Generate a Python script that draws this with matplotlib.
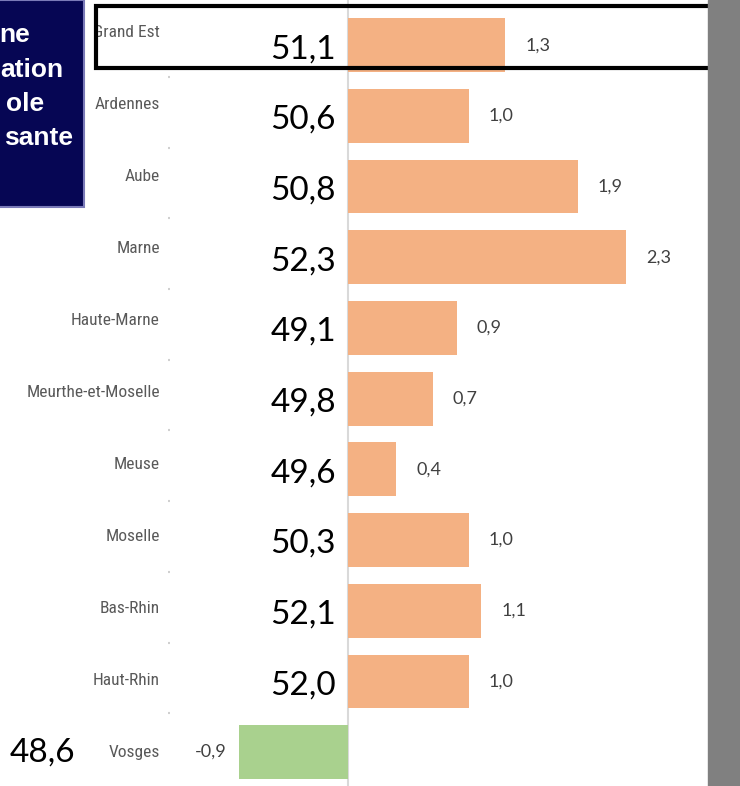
import matplotlib
matplotlib.use("Agg")
import matplotlib.pyplot as plt
from matplotlib import font_manager
from matplotlib.patches import Rectangle
import matplotlib.transforms as mtransforms

departements = ["Grand Est", "Ardennes", "Aube", "Marne", "Haute-Marne",
                "Meurthe-et-Moselle", "Meuse", "Moselle", "Bas-Rhin",
                "Haut-Rhin", "Vosges"]
evolution = [1.3, 1.0, 1.9, 2.3, 0.9, 0.7, 0.4, 1.0, 1.1, 1.0, -0.9]
taux = [51.1, 50.6, 50.8, 52.3, 49.1, 49.8, 49.6, 50.3, 52.1, 52.0, 48.6]

def fr(v):
    return f"{v:.1f}".replace(".", ",")

# pick a narrow font for category names if one is installed
names = {f.name for f in font_manager.fontManager.ttflist}
narrow = [n for n in ["Liberation Sans Narrow", "DejaVu Sans Condensed",
                      "Roboto Condensed", "Open Sans Condensed"] if n in names]
stretch_cond = [f for f in font_manager.fontManager.ttflist
                if f.name == "DejaVu Sans" and f.stretch == "condensed"]
if narrow:
    lab_kw = dict(family=[narrow[0], "DejaVu Sans"], fontsize=12.5)
elif stretch_cond:
    lab_kw = dict(family=["DejaVu Sans"], stretch="condensed", fontsize=11)
else:
    lab_kw = dict(family=["Roboto", "DejaVu Sans"], fontsize=10.5)

W, H = 740, 786
fig = plt.figure(figsize=(W / 100, H / 100), dpi=100)
ax = fig.add_axes([170 / W, 0, 538 / W, 1])

colors = ["#f4b183" if v >= 0 else "#a9d18e" for v in evolution]
ypos = list(range(len(departements)))
ax.barh(ypos, evolution, height=0.76, color=colors, zorder=2)
ax.axvline(0, color="#d9d9d9", lw=1.5, zorder=1)

ax.set_xlim(-1.47, 2.975)
ax.set_ylim(10.48, -0.64)
ax.set_xticks([])
ax.set_yticks([y + 0.45 for y in ypos[:-1]])
ax.set_yticklabels([])
ax.tick_params(axis="y", length=1.5, color="#d0d0d0", width=1.5)
for s in ax.spines.values():
    s.set_visible(False)

num_font = ["Lato", "DejaVu Sans"]
trans_lab = mtransforms.blended_transform_factory(ax.transAxes, ax.transData)
for i, (name, v, t) in enumerate(zip(departements, evolution, taux)):
    # category labels (slightly above the bar centre)
    dy = 13 - 1.3 * i
    ax.annotate(name, xy=(0, i), xycoords=trans_lab, xytext=(-10, dy),
                textcoords="offset pixels", ha="right", va="center",
                color="#595959", zorder=5, **lab_kw)
    # bar value labels
    if v >= 0:
        ax.annotate(fr(v), xy=(v, i), xytext=(20, 0), textcoords="offset pixels",
                    ha="left", va="center", fontsize=13, color="#404040", family=num_font)
    else:
        ax.annotate(fr(v), xy=(v, i), xytext=(-12, 0), textcoords="offset pixels",
                    ha="right", va="center", fontsize=13, color="#404040", family=num_font)
    # big rate numbers
    if v >= 0:
        ax.annotate(fr(t), xy=(0, i), xytext=(-12, -4), textcoords="offset pixels",
                    ha="right", va="center", fontsize=24, color="black", family=num_font)
    else:
        ax.annotate(fr(t), xy=(0, i), xycoords=trans_lab, xytext=(-95, 0),
                    textcoords="offset pixels", ha="right", va="center",
                    fontsize=24, color="black", family=num_font)

# grey strip on the right
fig.patches.append(Rectangle((708 / W, 0), 32 / W, 1, transform=fig.transFigure,
                             color="#808080", zorder=5))
# highlight box around Grand Est
fig.patches.append(Rectangle((96 / W, 1 - 68 / H), 620 / W, 62 / H,
                             transform=fig.transFigure, fill=False,
                             ec="black", lw=3, zorder=4))
# dark title box, cut off on the left
fig.patches.append(Rectangle((-0.01, 1 - 207 / H), 91 / W, 207 / H,
                             transform=fig.transFigure, fc="#060654",
                             ec="#7a7ab8", lw=1.5, zorder=6))
title_lines = [("ne", 30, 35), ("ation", 63, 70), ("ole", 44, 104), ("sante", 73, 138)]
for txt, xr, yc in title_lines:
    fig.text(xr / W, 1 - yc / H, txt, ha="right", va="center", fontsize=19,
             fontweight="bold", color="white", family=["Liberation Sans", "DejaVu Sans"],
             zorder=7)

plt.savefig("out.png", dpi=100)
